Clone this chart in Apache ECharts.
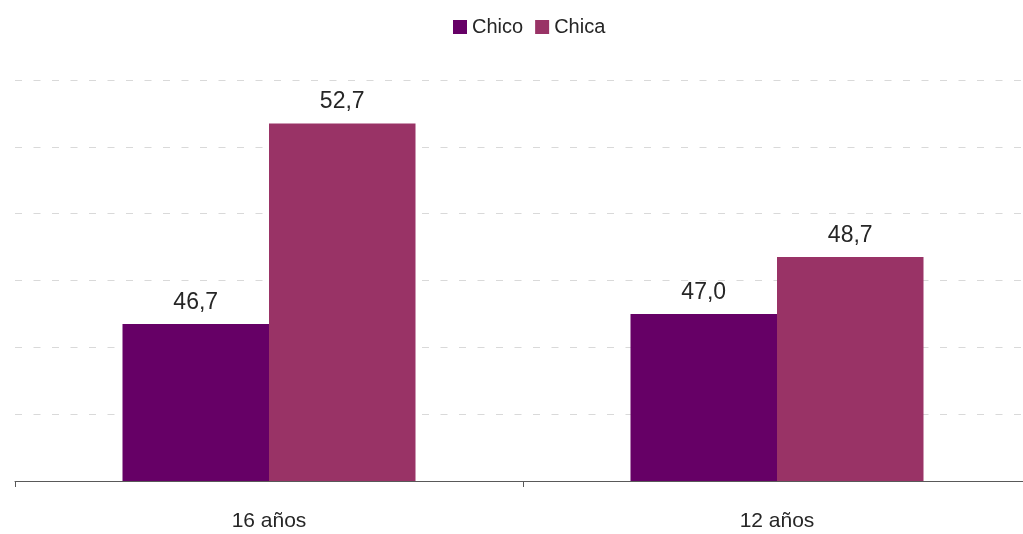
<!DOCTYPE html>
<html><head><meta charset="utf-8">
<script src="https://cdn.jsdelivr.net/npm/echarts@6/dist/echarts.min.js"></script>
<style>html,body{margin:0;padding:0;background:#fff;overflow:hidden}#c{width:1031px;height:534px}</style>
</head><body><div id="c"></div>
<script>
const categories = ['16 años', '12 años'];
const chico = [46.7, 47.0];
const chica = [52.7, 48.7];
const seriesNames = ['Chico', 'Chica'];

const font = '"Liberation Sans", sans-serif';
const fmt = p => p.value.toFixed(1).replace('.', ',');
const chart = echarts.init(document.getElementById('c'));
chart.setOption({
  animation: false,
  textStyle: { fontFamily: font },
  legend: {
    top: 12, left: 448, itemWidth: 14, itemHeight: 14, itemGap: 12,
    icon: 'rect',
    textStyle: { fontFamily: font, fontSize: 20, color: '#262626' },
    data: seriesNames
  },
  grid: { left: 15, top: 80, right: 0, bottom: 53, containLabel: false },
  xAxis: {
    type: 'category', data: categories,
    axisLine: { lineStyle: { color: '#595959', width: 1 } },
    axisTick: { show: true, length: 6, lineStyle: { color: '#595959' } },
    axisLabel: { fontFamily: font, fontSize: 21, color: '#262626', margin: 30 }
  },
  yAxis: {
    type: 'value', min: 42, max: 54, interval: 2,
    axisLabel: { show: false }, axisLine: { show: false }, axisTick: { show: false },
    splitLine: { lineStyle: { color: '#d9d9d9', width: 1, type: [7, 11.5] } }
  },
  series: [
    { name: seriesNames[0], type: 'bar', data: chico, barWidth: 146.5, barGap: '0%',
      itemStyle: { color: '#660066' },
      label: { show: true, position: 'top', distance: 10, formatter: fmt, fontFamily: font, fontSize: 23, color: '#262626' } },
    { name: seriesNames[1], type: 'bar', data: chica, barWidth: 146.5, barGap: '0%',
      itemStyle: { color: '#993366' },
      label: { show: true, position: 'top', distance: 10, formatter: fmt, fontFamily: font, fontSize: 23, color: '#262626' } }
  ]
});
</script></body></html>
